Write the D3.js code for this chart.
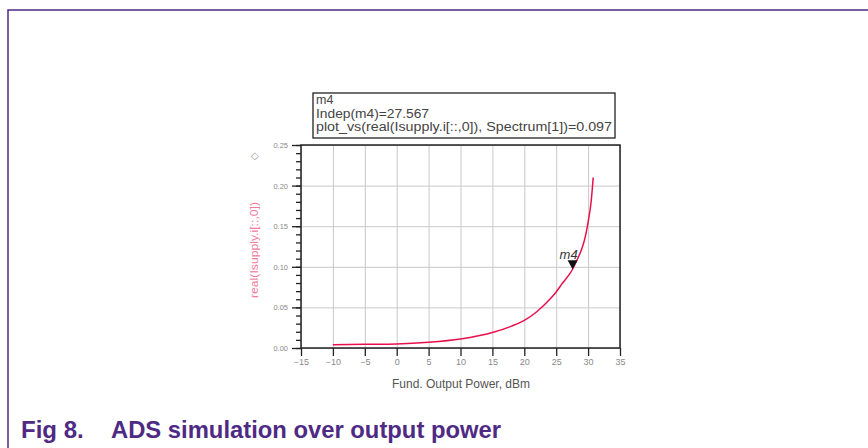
<!DOCTYPE html>
<html>
<head>
<meta charset="utf-8">
<script src="https://cdn.jsdelivr.net/npm/d3@7"></script>
<style>
  body { margin: 0; background: #fff; }
  svg { display: block; font-family: "Liberation Sans", Arial, sans-serif; }
</style>
</head>
<body>
<svg id="chart" width="868" height="448"></svg>
<script>
// data
const outPower = [-10, -5, 0, 5, 10, 15, 18, 20, 22, 24, 25, 26, 27, 27.567, 28, 29, 29.5, 30, 30.5, 30.8];
const supplyCurrent = [0.004, 0.0045, 0.005, 0.007, 0.011, 0.019, 0.027, 0.034, 0.045, 0.060, 0.069, 0.080, 0.090, 0.097, 0.104, 0.122, 0.135, 0.155, 0.182, 0.21];
const xTicks = [-15, -10, -5, 0, 5, 10, 15, 20, 25, 30, 35];
const yTicks = [0.00, 0.05, 0.10, 0.15, 0.20, 0.25];
const markerX = 27.567;
const markerY = 0.097;
const markerLines = ["m4", "Indep(m4)=27.567", "plot_vs(real(Isupply.i[::,0]), Spectrum[1])=0.097"];

const svg = d3.select("#chart");
const purple = "#4e2a84";

// page frame
svg.append("path")
    .attr("d", "M8,448 V10 H868")
    .attr("fill", "none")
    .attr("stroke", purple)
    .attr("stroke-width", 1.5);

const plotLeft = 301, plotRight = 620, plotTop = 145, plotBottom = 348;

const x = d3.scaleLinear().domain([-15, 35]).range([plotLeft, plotRight]);
const y = d3.scaleLinear().domain([0, 0.25]).range([plotBottom, plotTop]);

// grid
svg.append("g")
    .attr("transform", `translate(0,${plotBottom})`)
    .call(d3.axisBottom(x).tickValues(xTicks).tickSize(-(plotBottom - plotTop)).tickFormat(""))
    .call(g => g.select(".domain").remove())
    .call(g => g.selectAll("line").attr("stroke", "#c9c9c9").attr("stroke-width", 1));
svg.append("g")
    .attr("transform", `translate(${plotLeft},0)`)
    .call(d3.axisLeft(y).tickValues(yTicks).tickSize(-(plotRight - plotLeft)).tickFormat(""))
    .call(g => g.select(".domain").remove())
    .call(g => g.selectAll("line").attr("stroke", "#c9c9c9").attr("stroke-width", 1));

// minor y ticks
svg.append("g")
    .attr("transform", `translate(${plotLeft},0)`)
    .call(d3.axisLeft(y).tickValues(d3.range(0, 26).map(i => i / 100)).tickSize(5).tickFormat(""))
    .call(g => g.select(".domain").remove())
    .call(g => g.selectAll("line").attr("stroke", "#222").attr("stroke-width", 1.3));

// major y ticks + labels
svg.append("g")
    .attr("transform", `translate(${plotLeft},0)`)
    .call(d3.axisLeft(y).tickValues(yTicks).tickSize(9).tickPadding(4).tickFormat(d3.format(".2f")))
    .call(g => g.select(".domain").remove())
    .call(g => g.selectAll("line").attr("stroke", "#222").attr("stroke-width", 1.3))
    .call(g => g.selectAll("text").attr("fill", "#8a8a8a").attr("font-size", 7.5));

// x ticks + labels
svg.append("g")
    .attr("transform", `translate(0,${plotBottom})`)
    .call(d3.axisBottom(x).tickValues(xTicks).tickSize(8).tickPadding(3))
    .call(g => g.select(".domain").remove())
    .call(g => g.selectAll("line").attr("stroke", "#222").attr("stroke-width", 1.3))
    .call(g => g.selectAll("text").attr("fill", "#8a8a8a").attr("font-size", 9));

// plot frame
svg.append("rect")
    .attr("x", plotLeft).attr("y", plotTop)
    .attr("width", plotRight - plotLeft).attr("height", plotBottom - plotTop)
    .attr("fill", "none")
    .attr("stroke", "#222")
    .attr("stroke-width", 1.5);

// curve
const line = d3.line().x((d, i) => x(outPower[i])).y(d => y(d)).curve(d3.curveMonotoneX);
svg.append("path")
    .datum(supplyCurrent)
    .attr("d", line)
    .attr("fill", "none")
    .attr("stroke", "#e8104c")
    .attr("stroke-width", 1.5);

// marker m4
const mx = x(markerX), my = y(markerY);
svg.append("path")
    .attr("d", `M${mx},${my} l-5,-9 h10 z`)
    .attr("fill", "#111");
svg.append("text")
    .attr("x", mx - 13).attr("y", my - 10)
    .attr("font-size", 13)
    .attr("font-style", "italic")
    .attr("fill", "#333")
    .text("m4");

// marker readout box
svg.append("rect")
    .attr("x", 313).attr("y", 93)
    .attr("width", 302).attr("height", 45)
    .attr("fill", "#fff")
    .attr("stroke", "#222")
    .attr("stroke-width", 1.3);
const lineWidths = [null, 113, 296];
svg.append("g").selectAll("text")
    .data(markerLines)
    .join("text")
    .attr("x", 316)
    .attr("y", (d, i) => 104 + i * 13.5)
    .attr("font-size", 12.5)
    .attr("fill", "#444")
    .each(function(d, i) {
        if (lineWidths[i]) d3.select(this).attr("textLength", lineWidths[i]).attr("lengthAdjust", "spacingAndGlyphs");
    })
    .text(d => d);

// small trace symbol
svg.append("text")
    .attr("x", 255).attr("y", 159)
    .attr("text-anchor", "middle")
    .attr("font-size", 10)
    .attr("fill", "#999")
    .text("◇");

// axis titles
svg.append("text")
    .attr("transform", `translate(258,250) rotate(-90)`)
    .attr("text-anchor", "middle")
    .attr("font-size", 11)
    .attr("fill", "#f07a9c")
    .attr("textLength", 96)
    .attr("lengthAdjust", "spacingAndGlyphs")
    .text("real(Isupply.i[::,0])");
svg.append("text")
    .attr("x", 461).attr("y", 388)
    .attr("text-anchor", "middle")
    .attr("font-size", 12)
    .attr("fill", "#555")
    .text("Fund. Output Power, dBm");

// figure caption
svg.append("text")
    .attr("x", 21).attr("y", 438)
    .attr("font-size", 24)
    .attr("font-weight", "bold")
    .attr("fill", purple)
    .text("Fig 8.");
svg.append("text")
    .attr("x", 111).attr("y", 438)
    .attr("font-size", 24)
    .attr("font-weight", "bold")
    .attr("fill", purple)
    .attr("textLength", 390)
    .attr("lengthAdjust", "spacingAndGlyphs")
    .text("ADS simulation over output power");
</script>
</body>
</html>
